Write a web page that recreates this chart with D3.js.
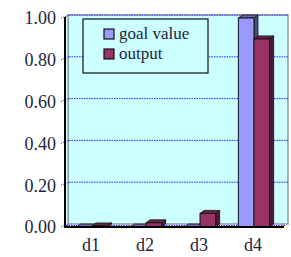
<!DOCTYPE html>
<html>
<head>
<meta charset="utf-8">
<script src="https://cdn.jsdelivr.net/npm/d3@7/dist/d3.min.js"></script>
<style>
  body { margin: 0; background: #fff; }
  text { font-family: "Liberation Serif", "DejaVu Serif", serif; fill: #1c2540; }
</style>
</head>
<body>
<div id="chart"></div>
<script>
var categories = ["d1", "d2", "d3", "d4"];
var seriesNames = ["goal value", "output"];
var goalValues = [0, 0, 0, 1.0];
var outputValues = [0.005, 0.02, 0.065, 0.90];
var yTicks = [0, 0.2, 0.4, 0.6, 0.8, 1.0];
var tickLabels = ["0.00", "0.20", "0.40", "0.60", "0.80", "1.00"];

var width = 291, height = 257;
var dx = 4, dy = 3; // fake 3d offset

var fills = ["#9999ff", "#993366"];
var tops = ["#6b6bb3", "#6b2447"];
var sides = ["#4d4d80", "#4d1a33"];

var svg = d3.select("#chart").append("svg")
    .attr("width", width)
    .attr("height", height);

var y = d3.scaleLinear().domain([0, 1]).range([227, 18]);
var x = d3.scaleBand().domain(categories).range([65, 281]).paddingInner(0.42).paddingOuter(0.21);
var xs = d3.scaleBand().domain(seriesNames).range([0, x.bandwidth()]);

// back wall
svg.append("rect")
    .attr("x", 65 + dx - 1).attr("y", y(1) - dy)
    .attr("width", 288 - 65 - dx + 1).attr("height", y(0) - y(1))
    .attr("fill", "#ccffff")
    .attr("stroke", "#999").attr("stroke-width", 1.5);

// left side wall strip
svg.append("path")
    .attr("d", "M65," + y(1) + "L" + (65 + dx - 1) + "," + (y(1) - dy) + "L" + (65 + dx - 1) + "," + (y(0) - dy) + "L65," + y(0) + "Z")
    .attr("fill", "#ccffff").attr("stroke", "#888");

// gridlines on the back wall
svg.selectAll(".grid")
    .data(yTicks.slice(1))
    .enter().append("line")
    .attr("x1", 65 + dx).attr("x2", 288)
    .attr("y1", function(d) { return y(d) - dy; })
    .attr("y2", function(d) { return y(d) - dy; })
    .attr("stroke", "#2a2aff").attr("stroke-width", 1)
    .attr("stroke-dasharray", "1.5,1");

// tick connectors
svg.selectAll(".tk")
    .data(yTicks)
    .enter().append("line")
    .attr("x1", 61).attr("x2", 65 + dx)
    .attr("y1", function(d) { return y(d); })
    .attr("y2", function(d) { return y(d) - dy; })
    .attr("stroke", "#2a2aff").attr("stroke-dasharray", "1,1");

// floor dotted line
svg.append("line")
    .attr("x1", 66).attr("x2", 286)
    .attr("y1", y(0) - 1.5).attr("y2", y(0) - 1.5)
    .attr("stroke", "#2a2aff").attr("stroke-dasharray", "1.5,1");

// bars
var rows = categories.map(function(c, i) {
  return [{cat: c, s: 0, v: goalValues[i]}, {cat: c, s: 1, v: outputValues[i]}];
});

var g = svg.selectAll(".cat").data(rows).enter().append("g");
var bars = g.selectAll(".bar").data(function(d) { return d; }).enter().append("g");

bars.each(function(d) {
  var b = d3.select(this);
  var x0 = x(d.cat) + xs(seriesNames[d.s]);
  var w = xs.bandwidth();
  var yt = y(d.v), yb = y(0);
  // side
  b.append("path")
    .attr("d", "M" + (x0 + w) + "," + yt + "l" + dx + "," + (-dy) + "L" + (x0 + w + dx) + "," + (yb - dy) + "L" + (x0 + w) + "," + yb + "Z")
    .attr("fill", sides[d.s]).attr("stroke", "#111").attr("stroke-width", 0.8);
  // top
  b.append("path")
    .attr("d", "M" + x0 + "," + yt + "l" + dx + "," + (-dy) + "h" + w + "l" + (-dx) + "," + dy + "Z")
    .attr("fill", tops[d.s]).attr("stroke", "#111").attr("stroke-width", 0.8);
  // front
  b.append("rect")
    .attr("x", x0).attr("y", yt)
    .attr("width", w).attr("height", yb - yt)
    .attr("fill", fills[d.s]).attr("stroke", "#111").attr("stroke-width", 1);
});

// axes lines
svg.append("line").attr("x1", 65).attr("x2", 65).attr("y1", y(1) - 1).attr("y2", y(0))
    .attr("stroke", "#000").attr("stroke-width", 2);
svg.append("line").attr("x1", 64).attr("x2", 284).attr("y1", y(0)).attr("y2", y(0))
    .attr("stroke", "#000").attr("stroke-width", 2);

// y labels
svg.selectAll(".ylab")
    .data(yTicks)
    .enter().append("text")
    .attr("x", 56)
    .attr("y", function(d) { return y(d); })
    .attr("dy", "0.35em")
    .attr("text-anchor", "end")
    .style("font-size", "18px")
    .text(function(d, i) { return tickLabels[i]; });

// x labels
svg.selectAll(".xlab")
    .data(categories)
    .enter().append("text")
    .attr("x", function(d) { return x(d) + x.bandwidth() / 2 - 1; })
    .attr("y", 251)
    .attr("text-anchor", "middle")
    .style("font-size", "18px")
    .text(function(d) { return d; });

// legend
var lg = svg.append("g");
lg.append("rect")
    .attr("x", 83).attr("y", 19).attr("width", 125).attr("height", 54)
    .attr("fill", "#ccffff").attr("stroke", "#111").attr("stroke-width", 1.2);
seriesNames.forEach(function(n, i) {
  lg.append("rect")
    .attr("x", 104).attr("y", 29 + i * 20).attr("width", 10).attr("height", 10)
    .attr("fill", fills[i]).attr("stroke", "#111").attr("stroke-width", 1.2);
  lg.append("text")
    .attr("x", 119).attr("y", 39 + i * 20)
    .style("font-size", "17px")
    .text(n);
});
</script>
</body>
</html>
